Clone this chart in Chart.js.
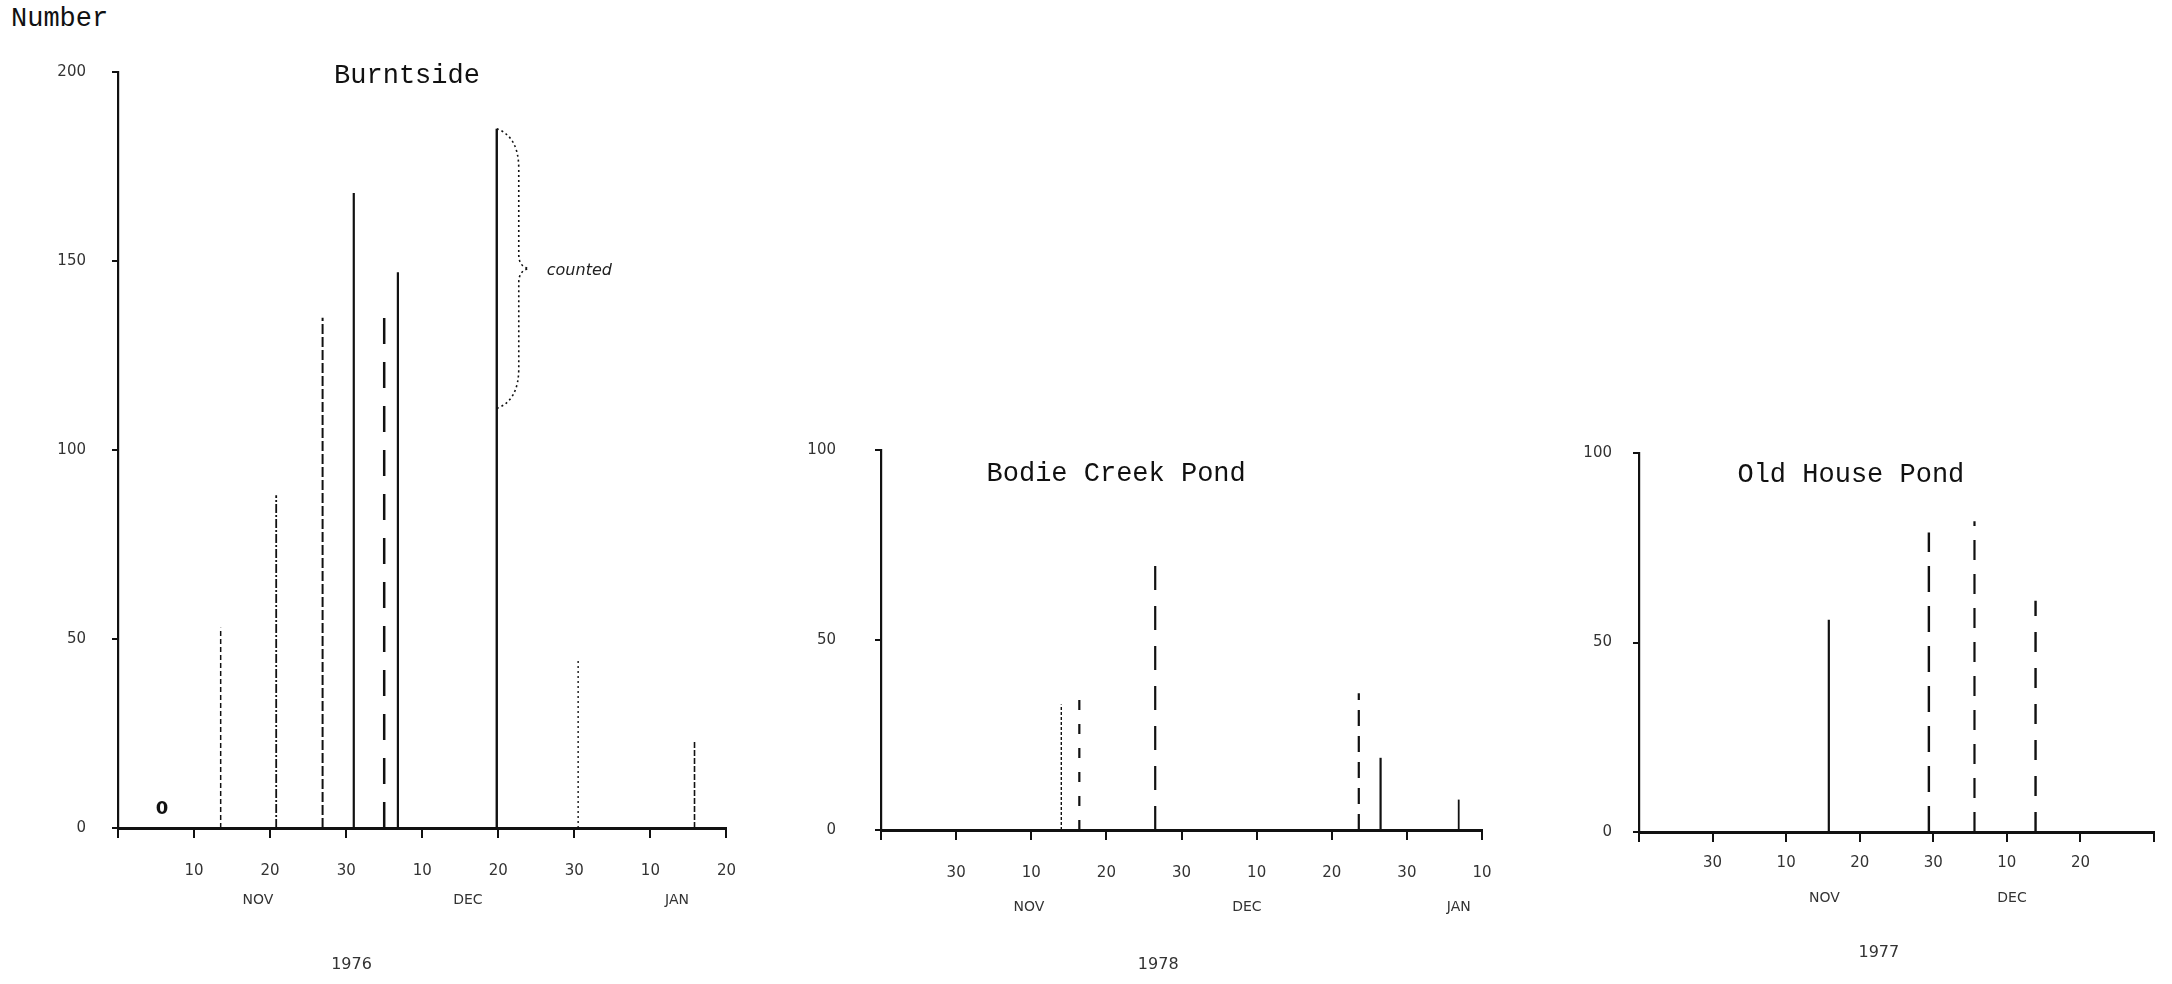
<!DOCTYPE html>
<html>
<head>
<meta charset="utf-8">
<script src="https://cdn.jsdelivr.net/npm/chart.js@4.4.1/dist/chart.umd.min.js"></script>
<style>
  body { margin: 0; background: #fff; width: 2172px; height: 984px; overflow: hidden; position: relative; }
  .panel { position: absolute; top: 0; height: 984px; }
  #number_label { position: absolute; left: 11px; top: 4px; font: 27px "Liberation Mono", monospace; color: #111; }
</style>
</head>
<body>
<div id="number_label">Number</div>
<div class="panel" style="left:0;width:760px"><canvas id="burntside_chart" width="760" height="984"></canvas></div>
<div class="panel" style="left:760px;width:760px"><canvas id="bodie_chart" width="760" height="984"></canvas></div>
<div class="panel" style="left:1520px;width:652px"><canvas id="old_house_chart" width="652" height="984"></canvas></div>
<script>
  // days counted from the first of november-ish start of each axis, counts per date
  const burntsideDays = [13.5, 20.8, 26.9, 31.0, 35.0, 36.8, 49.8, 60.5, 75.8];
  const burntsideCounts = [53, 88, 135, 168, 137, 147, 185, 45, 23];
  const bodieDays = [24.0, 26.4, 36.5, 63.6, 66.5, 76.9];
  const bodieCounts = [33, 37, 70, 36, 19, 8];
  const oldHouseDays = [25.8, 39.4, 45.6, 53.9];
  const oldHouseCounts = [56, 79, 82, 61];

  // tick labels (day of month under each 10-day tick)
  const burntsideTickLabels = ["", "10", "20", "30", "10", "20", "30", "10", "20"];
  const bodieTickLabels = ["", "30", "10", "20", "30", "10", "20", "30", "10"];
  const oldHouseTickLabels = ["", "30", "10", "20", "30", "10", "20", ""];

  const burntsideMonths = ["NOV", "DEC", "JAN"];
  const burntsideMonthDays = [18.4, 46, 73.5];
  const bodieMonths = ["NOV", "DEC", "JAN"];
  const bodieMonthDays = [19.7, 48.7, 76.9];
  const oldHouseMonths = ["NOV", "DEC"];
  const oldHouseMonthDays = [25.2, 50.7];

  // line looks of each stem
  const burntsideStyles = [
    { w: 1.5, dash: [5, 3] },
    { w: 1.8, dash: [9, 2, 2, 2] },
    { w: 2, dash: [10, 3] },
    { w: 2.2, dash: [] },
    { w: 2.5, dash: [26, 18] },
    { w: 2.2, dash: [] },
    { w: 2.4, dash: [] },
    { w: 1.4, dash: [2, 3] },
    { w: 1.6, dash: [6, 2] },
  ];
  const bodieStyles = [
    { w: 1.4, dash: [3, 2] },
    { w: 2.2, dash: [10, 14] },
    { w: 2.2, dash: [24, 16] },
    { w: 2.2, dash: [16, 10] },
    { w: 2.2, dash: [] },
    { w: 1.8, dash: [] },
  ];
  const oldHouseStyles = [
    { w: 2.2, dash: [] },
    { w: 2.4, dash: [26, 14] },
    { w: 2.2, dash: [20, 14] },
    { w: 2.4, dash: [20, 16] },
  ];

  const ink = "#111";
  const tickFont = { family: "DejaVu Sans", size: 15 };

  function stems(days, counts, styles) {
    return days.map(function (d, i) {
      return {
        data: [{ x: d, y: 0 }, { x: d, y: counts[i] }],
        showLine: true,
        pointRadius: 0,
        borderColor: ink,
        borderWidth: styles[i].w,
        borderDash: styles[i].dash,
      };
    });
  }

  // titles, month names, year and notes under/over each panel
  const panelText = {
    id: "panelText",
    afterDraw(chart, args, o) {
      const ctx = chart.ctx;
      const xs = chart.scales.x;
      const ys = chart.scales.y;
      const base = ys.getPixelForValue(0);
      ctx.save();
      ctx.fillStyle = ink;
      ctx.textAlign = "center";
      ctx.textBaseline = "middle";

      ctx.font = '27px "Liberation Mono"';
      ctx.fillText(o.title, xs.getPixelForValue(o.titleAt[0]), ys.getPixelForValue(o.titleAt[1]));

      ctx.fillStyle = "#333";
      ctx.font = '14px "DejaVu Sans"';
      o.months.forEach(function (m, i) {
        ctx.fillText(m, xs.getPixelForValue(o.monthDays[i]), base + o.monthOffset);
      });
      ctx.font = '16px "DejaVu Sans"';
      ctx.fillText(o.year, xs.getPixelForValue(o.yearAt), base + o.yearOffset);

      if (o.brace) {
        const b = o.brace;
        const x0 = xs.getPixelForValue(b.day);
        const top = ys.getPixelForValue(b.from);
        const bottom = ys.getPixelForValue(b.to);
        const mid = (top + bottom) / 2;
        ctx.strokeStyle = ink;
        ctx.lineWidth = 1.6;
        ctx.setLineDash([2, 3]);
        ctx.beginPath();
        ctx.moveTo(x0, top);
        ctx.quadraticCurveTo(x0 + 22, top + 8, x0 + 22, top + 40);
        ctx.lineTo(x0 + 22, mid - 14);
        ctx.quadraticCurveTo(x0 + 22, mid - 2, x0 + 32, mid);
        ctx.quadraticCurveTo(x0 + 22, mid + 2, x0 + 22, mid + 14);
        ctx.lineTo(x0 + 22, bottom - 40);
        ctx.quadraticCurveTo(x0 + 22, bottom - 8, x0, bottom);
        ctx.stroke();
        ctx.setLineDash([]);
        ctx.textAlign = "left";
        ctx.font = 'italic 16px "DejaVu Sans"';
        ctx.fillStyle = "#222";
        ctx.fillText(b.label, x0 + 50, mid + 2);
      }
      if (o.zeroMark) {
        ctx.textAlign = "center";
        ctx.font = 'bold 18px "DejaVu Sans"';
        ctx.fillStyle = ink;
        ctx.fillText("0", xs.getPixelForValue(o.zeroMark[0]), ys.getPixelForValue(o.zeroMark[1]));
      }
      ctx.restore();
    },
  };

  function makeChart(id, cfg) {
    return new Chart(document.getElementById(id), {
      type: "scatter",
      data: { datasets: stems(cfg.days, cfg.counts, cfg.styles) },
      plugins: [panelText],
      options: {
        responsive: false,
        animation: false,
        events: [],
        layout: { padding: { top: cfg.top, right: cfg.right, left: 0, bottom: 0 } },
        plugins: {
          legend: { display: false },
          tooltip: { enabled: false },
          panelText: cfg.text,
        },
        scales: {
          x: {
            type: "linear",
            min: 0,
            max: cfg.xMax,
            ticks: {
              stepSize: 10,
              autoSkip: false,
              maxRotation: 0,
              padding: cfg.xPad,
              font: tickFont,
              color: "#333",
              callback: function (v, i) {
                return cfg.tickLabels[i];
              },
            },
            grid: { drawOnChartArea: false, drawTicks: true, tickLength: 10, lineWidth: 2, color: ink },
            border: { display: true, color: ink, width: 3, dash: [30, 3] },
            afterFit: function (s) {
              s.height = cfg.xHeight;
            },
          },
          y: {
            type: "linear",
            min: 0,
            max: cfg.yMax,
            ticks: { stepSize: 50, padding: cfg.yPad, font: tickFont, color: "#333" },
            grid: { drawOnChartArea: false, drawTicks: true, tickLength: 6, lineWidth: 2, color: ink },
            border: { display: true, color: ink, width: 2.2, dash: cfg.yDash },
            afterFit: function (s) {
              s.width = cfg.yWidth;
            },
          },
        },
      },
    });
  }

  const burntsideChart = makeChart("burntside_chart", {
    days: burntsideDays,
    counts: burntsideCounts,
    styles: burntsideStyles,
    tickLabels: burntsideTickLabels,
    xMax: 80,
    yMax: 200,
    top: 72,
    right: 29,
    yWidth: 118,
    xHeight: 156,
    xPad: 24,
    yPad: 26,
    yDash: [18, 3, 2, 3],
    text: {
      title: "Burntside",
      titleAt: [38, 199],
      months: burntsideMonths,
      monthDays: burntsideMonthDays,
      monthOffset: 72,
      year: "1976",
      yearAt: 30.7,
      yearOffset: 137,
      brace: { day: 49.8, from: 185, to: 111, label: "counted" },
      zeroMark: [5.8, 5],
    },
  });

  const bodieChart = makeChart("bodie_chart", {
    days: bodieDays,
    counts: bodieCounts,
    styles: bodieStyles,
    tickLabels: bodieTickLabels,
    xMax: 80,
    yMax: 100,
    top: 450,
    right: 38,
    yWidth: 121,
    xHeight: 154,
    xPad: 24,
    yPad: 39,
    yDash: [],
    text: {
      title: "Bodie Creek Pond",
      titleAt: [31.3, 93.7],
      months: bodieMonths,
      monthDays: bodieMonthDays,
      monthOffset: 77,
      year: "1978",
      yearAt: 36.9,
      yearOffset: 135,
    },
  });

  const oldHouseChart = makeChart("old_house_chart", {
    days: oldHouseDays,
    counts: oldHouseCounts,
    styles: oldHouseStyles,
    tickLabels: oldHouseTickLabels,
    xMax: 70,
    yMax: 100,
    top: 453,
    right: 18,
    yWidth: 119,
    xHeight: 152,
    xPad: 12,
    yPad: 21,
    yDash: [],
    text: {
      title: "Old House Pond",
      titleAt: [28.8, 94.2],
      months: oldHouseMonths,
      monthDays: oldHouseMonthDays,
      monthOffset: 66,
      year: "1977",
      yearAt: 32.6,
      yearOffset: 121,
    },
  });
</script>
</body>
</html>
